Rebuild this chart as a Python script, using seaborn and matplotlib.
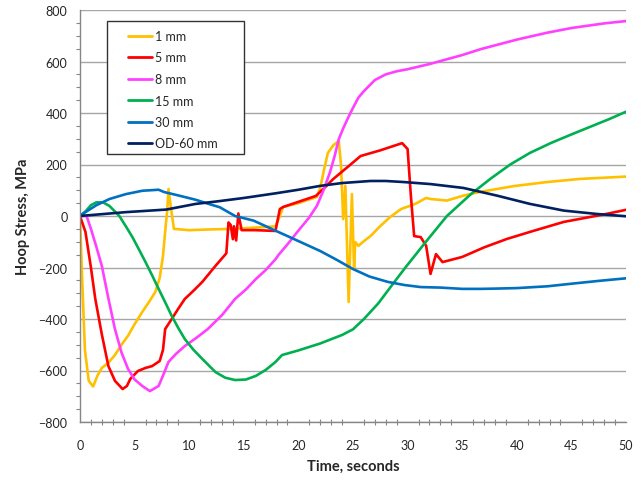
import numpy as np
import pandas as pd
import matplotlib
matplotlib.use("Agg")
import matplotlib.pyplot as plt
from matplotlib.ticker import MultipleLocator
from matplotlib.patches import Rectangle
import seaborn as sns

# ---- data ----
series_names = ["1 mm", "5 mm", "8 mm", "15 mm", "30 mm", "OD-60 mm"]
series_colors = ["#FFC000", "#FF0000", "#FF40FF", "#00B050", "#0070C0", "#002060"]

t1 = [0, 0.2, 0.45, 0.8, 1.2, 1.6, 2.0, 2.6, 3.2, 3.8, 4.4, 5.0, 5.7, 6.3, 6.9, 7.3, 7.6,
      7.8, 8.0, 8.1, 8.3, 8.6, 10, 12, 14, 16, 17.9, 18.3, 18.6, 20, 21.7, 22.0, 22.4, 22.7,
      23.2, 23.7, 23.9, 24.1, 24.3, 24.6, 24.9, 25.1, 25.2, 25.5, 25.9, 26.6, 27.5, 28.4,
      29.4, 30.7, 31.7, 32.1, 33.6, 35.1, 36.7, 39.7, 42.8, 45.8, 50]
s1 = [0, -250, -520, -640, -662, -620, -590, -570, -540, -500, -465, -420, -373, -335, -295,
      -240, -155, -60, 27, 105, 40, -50, -55, -52, -50, -45, -40, 0, 35, 50, 74, 110, 190, 245,
      275, 291, 200, -12, 117, -334, 85, -206, -101, -116, -101, -78, -39, -4, 27, 47, 70, 66,
      60, 79, 94, 116, 132, 144, 153]

t5 = [0, 0.5, 1.0, 1.4, 2.0, 2.6, 3.2, 3.9, 4.3, 4.6, 5.3, 6.0, 6.6, 7.3, 7.6, 7.8, 8.4, 9.0,
      9.6, 10.4, 11.2, 12.4, 13.4, 13.6, 13.8, 14.0, 14.1, 14.3, 14.5, 14.8, 16, 17.9, 18.3,
      18.6, 20, 21.6, 22.4, 23.2, 24.5, 25.7, 27.5, 29.5, 30.0, 30.3, 30.6, 31.2, 31.7, 32.1,
      32.6, 33.2, 35, 37, 39.1, 41.5, 44.3, 48.2, 50]
s5 = [0, -62, -200, -322, -460, -583, -640, -672, -660, -633, -602, -590, -583, -563, -520,
      -439, -400, -360, -322, -290, -256, -194, -145, -25, -35, -90, -40, -95, 10, -55, -55,
      -58, 27, 35, 55, 78, 110, 144, 190, 233, 255, 283, 260, 78, -78, -82, -116, -225, -148,
      -179, -159, -122, -89, -58, -23, 8, 24]

t8 = [0, 0.6, 1.0, 1.5, 2.0, 2.6, 3.2, 3.8, 4.4, 5.0, 5.7, 6.4, 7.2, 7.6, 8.1, 8.8, 9.6, 10.6,
      11.7, 13, 14.2, 15.2, 16.1, 17, 17.9, 18.2, 19, 19.9, 21, 21.7, 22.3, 22.9, 23.3, 23.7,
      24.1, 24.5, 25, 25.5, 26, 27, 28, 29, 30, 32, 35, 36.7, 40, 42.8, 45, 48, 50]
s8 = [0, 0, -50, -120, -194, -320, -439, -530, -594, -635, -660, -680, -660, -620, -567, -535,
      -505, -475, -439, -385, -322, -285, -245, -210, -168, -150, -110, -62, -5, 40, 100, 171,
      230, 299, 340, 377, 420, 460, 485, 528, 550, 562, 570, 590, 625, 648, 685, 712, 730,
      748, 757]

t15 = [0, 0.55, 1.0, 1.5, 2.1, 2.7, 3.6, 4.2, 4.8, 5.4, 6.0, 6.6, 7.2, 7.8, 8.4, 9.0, 9.6,
       10.4, 11.2, 12.4, 13.3, 14.2, 15.2, 16.1, 17, 17.9, 18.5, 20, 22, 24, 25, 26, 27.3,
       28.9, 29.8, 31.6, 33.6, 35.8, 37.6, 39.4, 41.2, 43.1, 44.9, 46.7, 48.5, 50]
s15 = [0, 20, 42, 53, 53, 39, 0, -40, -82, -130, -179, -230, -283, -335, -388, -435, -478,
       -520, -555, -606, -628, -637, -635, -621, -598, -567, -540, -522, -495, -462, -440,
       -400, -340, -250, -200, -104, 0, 85, 145, 200, 245, 283, 315, 346, 377, 405]

t30 = [0, 0.5, 1.5, 2.7, 4.2, 5.7, 7.2, 7.7, 8.8, 10.6, 11.7, 12.8, 14.2, 15.9, 17.9, 19,
       20.5, 22, 23.5, 25, 26.5, 28.2, 29.7, 31.2, 33, 35, 36.7, 38, 40, 42.8, 45, 47.5, 50]
s30 = [0, 15, 42, 66, 85, 98, 102, 93, 82, 63, 48, 34, 0, -18, -57, -78, -107, -136,
       -170, -206, -235, -256, -268, -276, -278, -283, -283, -282, -280, -273, -263, -252,
       -242]

t60 = [0, 4.2, 7.9, 10.6, 12.8, 15, 17.9, 20, 22, 24, 26.6, 28, 29.6, 32.1, 35.1, 38.2,
       41.2, 44.3, 47.3, 50]
s60 = [0, 15, 25, 47, 58, 70, 88, 102, 117, 128, 136, 136, 132, 124, 109, 79, 47, 21, 8, -1]

x_ticks = list(range(0, 51, 5))
y_ticks = list(range(-800, 801, 200))

# ---- build long table ----
times = [t1, t5, t8, t15, t30, t60]
vals = [s1, s5, s8, s15, s30, s60]
frames = []
for name, t, s in zip(series_names, times, vals):
    frames.append(pd.DataFrame({"Time": t, "Stress": s, "Series": name}))
df = pd.concat(frames, ignore_index=True)

sns.set_style("white")
plt.rcParams["font.family"] = ["Lato", "DejaVu Sans"]

fig = plt.figure(figsize=(6.41, 4.85), dpi=100)
ax = fig.add_axes([80 / 641, 1 - 423 / 485, 546 / 641, 412 / 485])

sns.lineplot(data=df, x="Time", y="Stress", hue="Series", hue_order=series_names,
             palette=dict(zip(series_names, series_colors)), estimator=None, sort=False,
             units="Series", linewidth=1.9, ax=ax)
for ln in ax.get_lines():
    ln.set_solid_joinstyle("round")

ax.set_xlim(0, 50)
ax.set_ylim(-800, 800)
ax.set_xticks(x_ticks)
ax.set_yticks(y_ticks)
ax.xaxis.set_minor_locator(MultipleLocator(1))
ax.yaxis.set_minor_locator(MultipleLocator(50))
ax.grid(axis="y", color="#A6A6A6", linewidth=1.0)
ax.grid(axis="x", visible=False)
ax.set_axisbelow(True)

for sp in ["top", "right"]:
    ax.spines[sp].set_visible(False)
for sp in ["left", "bottom"]:
    ax.spines[sp].set_color("#868686")
    ax.spines[sp].set_linewidth(1.0)

ax.tick_params(axis="both", which="major", labelsize=9, colors="#868686",
               labelcolor="#262626", length=4, width=1)
ax.tick_params(axis="y", which="major", direction="out", pad=5)
ax.tick_params(axis="x", which="major", direction="inout", length=6, pad=9)
ax.tick_params(axis="y", which="minor", direction="out", length=3, width=0.8,
               colors="#868686", left=True)
ax.tick_params(axis="x", which="minor", direction="inout", length=4, width=0.8,
               colors="#868686", bottom=True)

ax.set_xlabel("Time, seconds", fontsize=10.5, fontweight="bold", labelpad=6)
ax.set_ylabel("Hoop Stress, MPa", fontsize=10.5, fontweight="bold", labelpad=6)

# legend with an Excel-style box
box = Rectangle((107 / 641, 1 - 155 / 485), 137 / 641, 133 / 485, transform=fig.transFigure,
                facecolor="white", edgecolor="#333333", linewidth=1.0, zorder=4, clip_on=False)
ax.add_patch(box)
leg = ax.legend(loc="upper left", bbox_to_anchor=(128 / 641, 1 - 31 / 485),
                bbox_transform=fig.transFigure, frameon=False, fontsize=9,
                handlelength=1.9, handletextpad=0.25, labelspacing=0.76, borderpad=0,
                borderaxespad=0)
leg.set_zorder(5)
for line in leg.get_lines():
    line.set_linewidth(2.0)

fig.savefig("out.png", dpi=100)
